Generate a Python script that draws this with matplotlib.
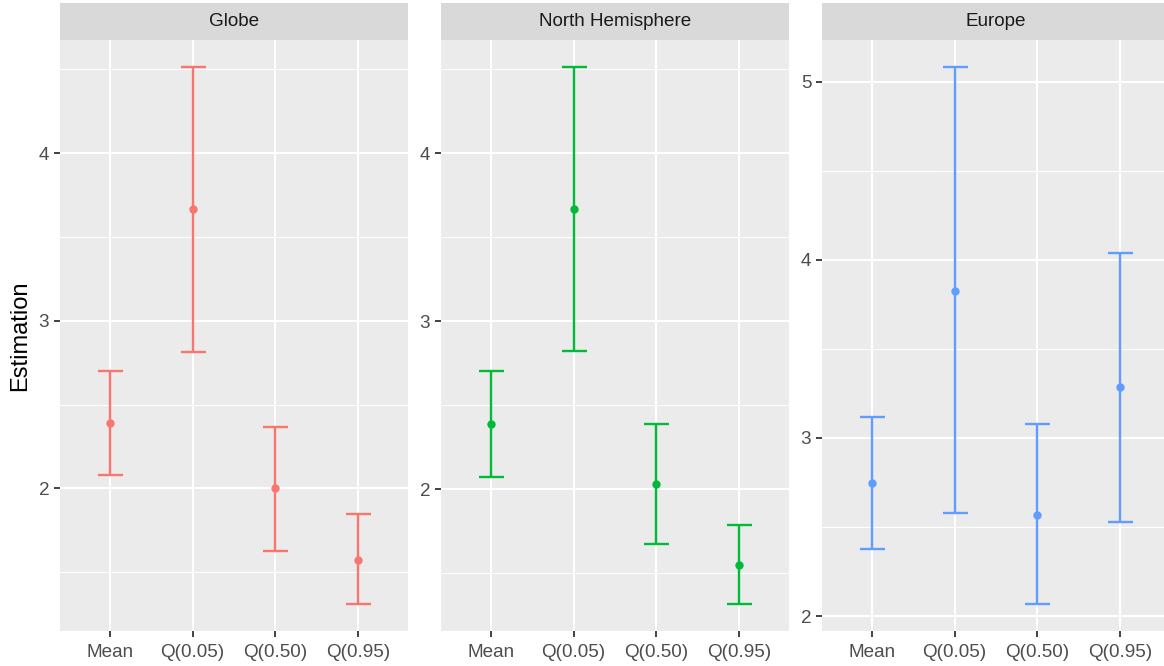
import matplotlib
matplotlib.use("Agg")
import matplotlib.pyplot as plt
from matplotlib.ticker import MultipleLocator

plt.rcParams['font.family'] = ['Liberation Sans', 'DejaVu Sans']

categories = ["Mean", "Q(0.05)", "Q(0.50)", "Q(0.95)"]
panels = ["Globe", "North Hemisphere", "Europe"]
colors = ["#F8766D", "#00BA38", "#619CFF"]

globe_est = [2.39, 3.665, 2.00, 1.574]
globe_lo = [2.08, 2.817, 1.629, 1.31]
globe_hi = [2.70, 4.515, 2.368, 1.85]

nh_est = [2.39, 3.666, 2.03, 1.549]
nh_lo = [2.073, 2.82, 1.676, 1.316]
nh_hi = [2.701, 4.514, 2.39, 1.785]

eu_est = [2.747, 3.823, 2.57, 3.289]
eu_lo = [2.377, 2.577, 2.067, 2.53]
eu_hi = [3.117, 5.084, 3.081, 4.041]

series = [(globe_est, globe_lo, globe_hi),
          (nh_est, nh_lo, nh_hi),
          (eu_est, eu_lo, eu_hi)]

W, H = 1164, 666
fig = plt.figure(figsize=(W / 100, H / 100), dpi=100)

lefts = [60, 441, 822]
pw = 348
plot_top, plot_bot = 40, 631
strip_top = 2.5

for i, (name, col, (est, lo, hi)) in enumerate(zip(panels, colors, series)):
    ax = fig.add_axes([lefts[i] / W, (H - plot_bot) / H, pw / W, (plot_bot - plot_top) / H])
    ax.set_facecolor("#EBEBEB")
    x = list(range(len(categories)))
    yerr = [[e - l for e, l in zip(est, lo)], [h - e for e, h in zip(est, hi)]]
    ax.errorbar(x, est, yerr=yerr, fmt='o', color=col, ecolor=col,
                elinewidth=1.7, capsize=9, capthick=1.7, markersize=5, zorder=3)
    ymin, ymax = min(lo), max(hi)
    pad = 0.05 * (ymax - ymin)
    ax.set_ylim(ymin - pad, ymax + pad)
    ax.set_xlim(-0.6, len(categories) - 0.4)
    ax.set_xticks(x)
    ax.set_xticklabels(categories)
    ax.yaxis.set_major_locator(MultipleLocator(1))
    ax.yaxis.set_minor_locator(MultipleLocator(0.5))
    ax.grid(which='major', color='white', linewidth=1.44, zorder=0)
    ax.grid(which='minor', axis='y', color='white', linewidth=0.72, zorder=0)
    ax.set_axisbelow(True)
    for s in ax.spines.values():
        s.set_visible(False)
    ax.tick_params(which='major', length=4.3, width=1.3, color='#333333',
                   labelsize=13.6, labelcolor='#4D4D4D', pad=3.4)
    ax.tick_params(axis='x', which='major', pad=5)
    ax.tick_params(which='minor', length=0)
    # strip
    sax = fig.add_axes([lefts[i] / W, (H - plot_top) / H, pw / W, (plot_top - strip_top) / H])
    sax.set_facecolor("#D9D9D9")
    sax.set_xticks([])
    sax.set_yticks([])
    for s in sax.spines.values():
        s.set_visible(False)
    sax.text(0.5, 0.5, name, ha='center', va='center', fontsize=13.6,
             color='#1A1A1A', transform=sax.transAxes)

fig.text(20 / W, (H - (plot_top + plot_bot) / 2) / H, "Estimation", rotation=90,
         ha='center', va='center', fontsize=17, color='black')

fig.savefig("out.png", dpi=100, facecolor='white')
